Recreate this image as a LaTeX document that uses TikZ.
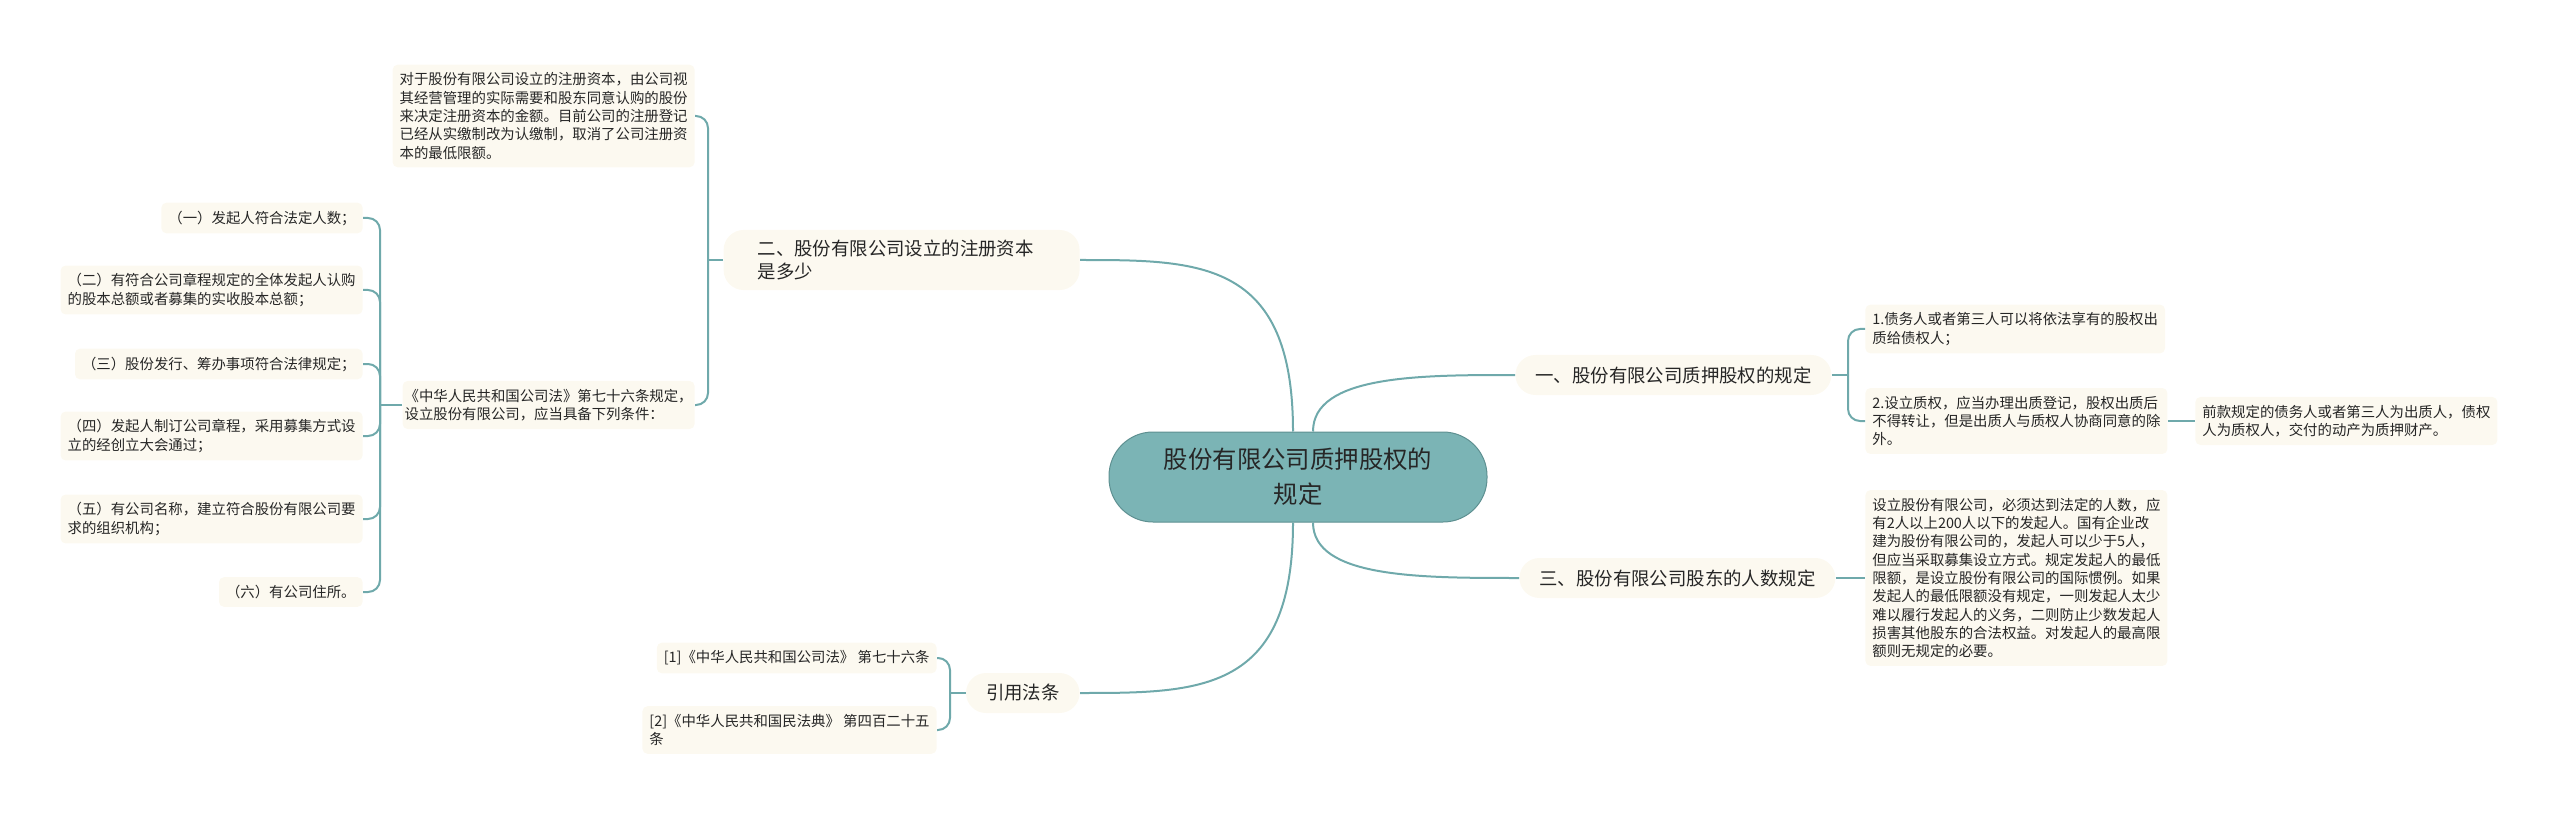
\documentclass[tikz,border=0pt]{standalone}
\usepackage{fontspec}
\setmainfont{Noto Sans CJK SC}
\usetikzlibrary{calc}
\definecolor{mmteal}{HTML}{6FA9AB}
\definecolor{mmrootfill}{HTML}{7BB4B5}
\definecolor{mmcream}{HTML}{FCF9F0}
\definecolor{mmtext}{HTML}{262626}

\begin{document}
\begin{tikzpicture}[x=0.5pt,y=-0.5pt,
    mmroot/.style={draw=mmteal!85!black,fill=mmrootfill,rounded corners=22pt,line width=0.5pt,
        minimum width=189pt,minimum height=45pt,align=center,text=mmtext,
        font=\fontsize{12.2}{17.5}\selectfont},
    mmbranch/.style={fill=mmcream,rounded corners=10pt,inner xsep=10pt,inner ysep=5pt,
        minimum height=20pt,align=left,text=mmtext,font=\fontsize{9.2}{11.5}\selectfont},
    mmleaf/.style={fill=mmcream,rounded corners=2.5pt,inner xsep=3.5pt,inner ysep=4pt,
        align=left,text=mmtext,font=\fontsize{7.2}{9.15}\selectfont},
    mmlink/.style={draw=mmteal,line width=1pt},
    mmbrace/.style={mmlink,rounded corners=6pt}
]
\useasboundingbox (0,0) rectangle (2560,818);
\node[mmroot] (root) at (1298,477) {股份有限公司质押股权的\\规定};
\node[mmbranch,anchor=east,inner xsep=17pt,text width=144pt] (capital) at (1080,260)
    {二、股份有限公司设立的注册资本\\是多少};
\node[mmbranch,anchor=west] (pledge) at (1515,375) {一、股份有限公司质押股权的规定};
\node[mmbranch,anchor=west] (founders) at (1519,578) {三、股份有限公司股东的人数规定};
\node[mmbranch,anchor=east] (refs) at (1080,693) {引用法条};
\node[mmleaf,anchor=east] (capnote) at (695,116)
    {对于股份有限公司设立的注册资本，由公司视\\其经营管理的实际需要和股东同意认购的股份\\来决定注册资本的金额。目前公司的注册登记\\已经从实缴制改为认缴制，取消了公司注册资\\本的最低限额。};
\node[mmleaf,anchor=east,inner xsep=1pt] (law76) at (695,405)
    {《中华人民共和国公司法》第七十六条规定，\\设立股份有限公司，应当具备下列条件：};
\node[mmleaf,anchor=east] (cond1) at (363,218) {（一）发起人符合法定人数；};
\node[mmleaf,anchor=east] (cond2) at (363,290)
    {（二）有符合公司章程规定的全体发起人认购\\的股本总额或者募集的实收股本总额；};
\node[mmleaf,anchor=east] (cond3) at (363,364) {（三）股份发行、筹办事项符合法律规定；};
\node[mmleaf,anchor=east] (cond4) at (363,436)
    {（四）发起人制订公司章程，采用募集方式设\\立的经创立大会通过；};
\node[mmleaf,anchor=east] (cond5) at (363,519)
    {（五）有公司名称，建立符合股份有限公司要\\求的组织机构；};
\node[mmleaf,anchor=east] (cond6) at (363,592) {（六）有公司住所。};
\node[mmleaf,anchor=east] (ref1) at (937,658) {[1]《中华人民共和国公司法》 第七十六条};
\node[mmleaf,anchor=east] (ref2) at (937,730) {[2]《中华人民共和国民法典》 第四百二十五\\条};
\node[mmleaf,anchor=west] (pledge1) at (1865,329)
    {1.债务人或者第三人可以将依法享有的股权出\\质给债权人；};
\node[mmleaf,anchor=west] (pledge2) at (1865,421)
    {2.设立质权，应当办理出质登记，股权出质后\\不得转让，但是出质人与质权人协商同意的除\\外。};
\node[mmleaf,anchor=west] (pledgenote) at (2195,421)
    {前款规定的债务人或者第三人为出质人，债权\\人为质权人，交付的动产为质押财产。};
\node[mmleaf,anchor=west] (countnote) at (1865,578)
    {设立股份有限公司，必须达到法定的人数，应\\有2人以上200人以下的发起人。国有企业改\\建为股份有限公司的，发起人可以少于5人，\\但应当采取募集设立方式。规定发起人的最低\\限额，是设立股份有限公司的国际惯例。如果\\发起人的最低限额没有规定，一则发起人太少\\难以履行发起人的义务，二则防止少数发起人\\损害其他股东的合法权益。对发起人的最高限\\额则无规定的必要。};
\coordinate (capfork) at (708,260);
\coordinate (lawfork) at (380,405);
\coordinate (reffork) at (950,693);
\coordinate (pledgefork) at (1848,375);
\draw[mmlink] ([xshift=-2.5pt]root.north) .. controls (1293,260) and (1200,260) .. (capital.east);
\draw[mmlink] ([xshift=7.5pt]root.north) .. controls (1313,375) and (1420,375) .. (pledge.west);
\draw[mmlink] ([xshift=7.5pt]root.south) .. controls (1313,578) and (1420,578) .. (founders.west);
\draw[mmlink] ([xshift=-2.5pt]root.south) .. controls (1293,693) and (1200,693) .. (refs.east);
\draw[mmlink] (capital.west) -- (capfork);
\draw[mmbrace] (capfork) -- (capfork |- capnote.east) -- (capnote.east);
\draw[mmbrace] (capfork) -- (capfork |- law76.east) -- (law76.east);
\draw[mmlink] (law76.west) -- (lawfork);
\foreach \cond in {cond1,cond2,cond3,cond4,cond5,cond6}
    \draw[mmbrace] (lawfork) -- (lawfork |- \cond.east) -- (\cond.east);
\draw[mmlink] (refs.west) -- (reffork);
\draw[mmbrace] (reffork) -- (reffork |- ref1.east) -- (ref1.east);
\draw[mmbrace] (reffork) -- (reffork |- ref2.east) -- (ref2.east);
\draw[mmlink] (pledge.east) -- (pledgefork);
\draw[mmbrace] (pledgefork) -- (pledgefork |- pledge1.west) -- (pledge1.west);
\draw[mmbrace] (pledgefork) -- (pledgefork |- pledge2.west) -- (pledge2.west);
\draw[mmlink] (pledge2.east) -- (pledgenote.west);
\draw[mmlink] (founders.east) -- (countnote.west);
\end{tikzpicture}
\end{document}
